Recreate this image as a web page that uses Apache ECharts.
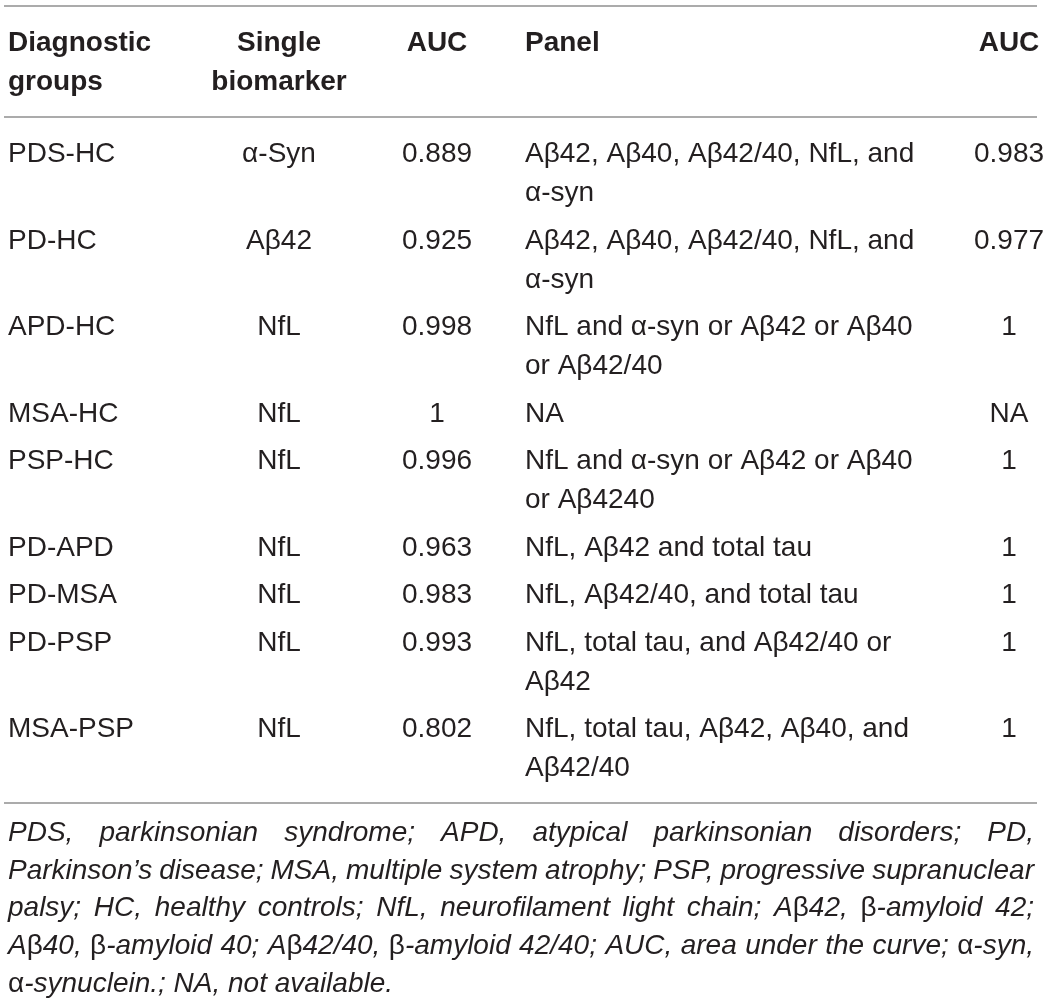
<!DOCTYPE html>
<html><head><meta charset="utf-8">
<script src="https://cdn.jsdelivr.net/npm/echarts@6/dist/echarts.min.js"></script>
<style>html,body{margin:0;padding:0;background:#fff}#c{width:1050px;height:1001px}</style>
</head><body><div id="c"></div>
<script>
// ---------------- data ----------------
const headers = ['Diagnostic\ngroups', 'Single\nbiomarker', 'AUC', 'Panel', 'AUC'];
const groups = ['PDS-HC', 'PD-HC', 'APD-HC', 'MSA-HC', 'PSP-HC', 'PD-APD', 'PD-MSA', 'PD-PSP', 'MSA-PSP'];
const singleBiomarkers = ['α-Syn', 'Aβ42', 'NfL', 'NfL', 'NfL', 'NfL', 'NfL', 'NfL', 'NfL'];
const singleAUC = [0.889, 0.925, 0.998, 1, 0.996, 0.963, 0.983, 0.993, 0.802];
const panels = [
  'Aβ42, Aβ40, Aβ42/40, NfL, and\nα-syn',
  'Aβ42, Aβ40, Aβ42/40, NfL, and\nα-syn',
  'NfL and α-syn or Aβ42 or Aβ40\nor Aβ42/40',
  'NA',
  'NfL and α-syn or Aβ42 or Aβ40\nor Aβ4240',
  'NfL, Aβ42 and total tau',
  'NfL, Aβ42/40, and total tau',
  'NfL, total tau, and Aβ42/40 or\nAβ42',
  'NfL, total tau, Aβ42, Aβ40, and\nAβ42/40'
];
const panelAUC = [0.983, 0.977, 1, null, 1, 1, 1, 1, 1];
const footnoteLines = [
  'PDS, parkinsonian syndrome; APD, atypical parkinsonian disorders; PD,',
  'Parkinson’s disease; MSA, multiple system atrophy; PSP, progressive supranuclear',
  'palsy; HC, healthy controls; NfL, neurofilament light chain; Aβ42, β-amyloid 42;',
  'Aβ40, β-amyloid 40; Aβ42/40, β-amyloid 42/40; AUC, area under the curve; α-syn,',
  'α-synuclein.; NA, not available.'
];

// ---------------- layout / style ----------------
const FONT_FAMILY = '"Liberation Sans", Arial, Helvetica, sans-serif';
const TEXT_COLOR = '#231f20';
const RULE_COLOR = '#8f8f8f';
const BODY_SIZE = 28;
const FOOT_SIZE = 28;
const COLS = [
  { x: 8, align: 'left' },
  { x: 279, align: 'center' },
  { x: 437, align: 'center' },
  { x: 525, align: 'left' },
  { x: 1009, align: 'center' }
];
const RULE_X0 = 4, RULE_X1 = 1037;
const TOP_RULE = 6, HEAD_RULE = 117, BOTTOM_RULE = 803;
const HEAD_Y = 43.5, FIRST_ROW_Y = 154.5;
const LINE = 39, ROW_GAP = 47.5;
const FOOT_Y = 833, FOOT_LINE = 37.8, FOOT_X0 = 8, FOOT_X1 = 1034;

const fmt = v => (v === null || v === undefined) ? 'NA' : String(v);
const cellText = (c, r) => [groups[r], singleBiomarkers[r], fmt(singleAUC[r]), panels[r], fmt(panelAUC[r])][c];

// row first-line positions derived from line counts
const rowY = [];
{
  let y = FIRST_ROW_Y;
  for (let r = 0; r < groups.length; r++) {
    rowY.push(y);
    let n = 1;
    for (let c = 0; c < 5; c++) n = Math.max(n, cellText(c, r).split('\n').length);
    y += (n - 1) * LINE + ROW_GAP;
  }
}

const measureCtx = document.createElement('canvas').getContext('2d');
function measure(text, font) { measureCtx.font = font; return measureCtx.measureText(text).width; }
const italicFont = `italic ${FOOT_SIZE}px ${FONT_FAMILY}`;
const uprightFont = `normal ${FOOT_SIZE}px ${FONT_FAMILY}`;
function segs(word) {
  return word.split(/([αβ])/).filter(s => s.length).map(s => ({ s, greek: /^[αβ]$/.test(s) }));
}
function wordWidth(word) {
  return segs(word).reduce((a, g) => a + measure(g.s, g.greek ? uprightFont : italicFont), 0);
}

function textEl(api, x, y, text, font, align) {
  const p = api.coord([x, y]);
  return { type: 'text', x: p[0], y: p[1], style: { text, font, fill: TEXT_COLOR, align, verticalAlign: 'middle' } };
}

const chart = echarts.init(document.getElementById('c'), null, { renderer: 'canvas' });
chart.setOption({
  animation: false,
  backgroundColor: '#fff',
  grid: { left: 0, right: 0, top: 0, bottom: 0 },
  xAxis: { type: 'value', min: 0, max: 1050, show: false },
  yAxis: { type: 'value', min: 0, max: 1001, inverse: true, show: false },
  series: [
    { // rules
      type: 'custom', silent: true,
      data: [[TOP_RULE], [HEAD_RULE], [BOTTOM_RULE]],
      renderItem: (params, api) => {
        const a = api.coord([RULE_X0, api.value(0)]);
        const b = api.coord([RULE_X1, api.value(0)]);
        return { type: 'line', shape: { x1: a[0], y1: a[1], x2: b[0], y2: b[1] }, style: { stroke: RULE_COLOR, lineWidth: 1.6 } };
      }
    },
    { // header
      type: 'custom', silent: true,
      data: headers.map((h, i) => [i]),
      renderItem: (params, api) => {
        const c = api.value(0);
        const children = headers[c].split('\n').map((t, l) =>
          textEl(api, COLS[c].x, HEAD_Y + l * LINE, t, `bold ${BODY_SIZE}px ${FONT_FAMILY}`, COLS[c].align));
        return { type: 'group', children };
      }
    },
    { // body rows
      type: 'custom', silent: true,
      data: groups.map((g, i) => [i]),
      renderItem: (params, api) => {
        const r = api.value(0);
        const children = [];
        for (let c = 0; c < 5; c++) {
          cellText(c, r).split('\n').forEach((t, l) => {
            children.push(textEl(api, COLS[c].x, rowY[r] + l * LINE, t, `normal ${BODY_SIZE}px ${FONT_FAMILY}`, COLS[c].align));
          });
        }
        return { type: 'group', children };
      }
    },
    { // footnote, justified
      type: 'custom', silent: true,
      data: footnoteLines.map((t, i) => [i]),
      renderItem: (params, api) => {
        const i = api.value(0);
        const words = footnoteLines[i].split(' ');
        const widths = words.map(wordWidth);
        const total = widths.reduce((a, b) => a + b, 0);
        const isLast = i === footnoteLines.length - 1;
        const gap = isLast ? measure(' ', italicFont) : (FOOT_X1 - FOOT_X0 - total) / (words.length - 1);
        const y = FOOT_Y + i * FOOT_LINE;
        const children = [];
        let x = FOOT_X0;
        words.forEach((w, k) => {
          segs(w).forEach(g => {
            const f = g.greek ? uprightFont : italicFont;
            children.push(textEl(api, x, y, g.s, f, 'left'));
            x += measure(g.s, f);
          });
          x += gap;
        });
        return { type: 'group', children };
      }
    }
  ]
});
</script>
</body></html>
